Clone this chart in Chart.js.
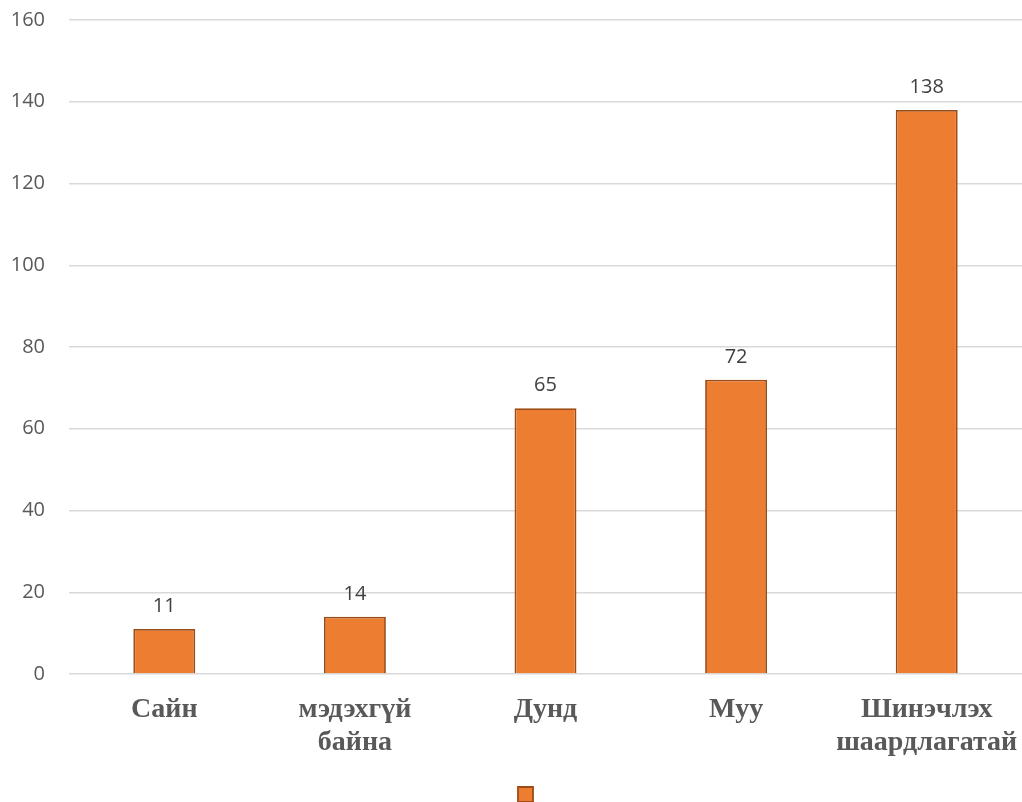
<!DOCTYPE html>
<html>
<head>
<meta charset="utf-8">
<script src="https://cdn.jsdelivr.net/npm/chart.js@4/dist/chart.umd.min.js"></script>
<style>
  html, body { margin: 0; padding: 0; background: #ffffff; }
  #wrap { width: 1022px; height: 802px; position: relative; }
</style>
</head>
<body>
<div id="wrap"><canvas id="c"></canvas></div>
<script>
const categories = [["Сайн"], ["мэдэхгүй", "байна"], ["Дунд"], ["Муу"], ["Шинэчлэх", "шаардлагатай"]];
const values = [11, 14, 65, 72, 138];
const yMin = 0;
const yMax = 160;
const yStep = 20;

const valueLabels = {
  id: 'valueLabels',
  afterDatasetsDraw(chart) {
    const ctx = chart.ctx;
    const meta = chart.getDatasetMeta(0);
    ctx.save();
    ctx.font = '20px "Open Sans"';
    ctx.fillStyle = '#404040';
    ctx.textAlign = 'center';
    ctx.textBaseline = 'alphabetic';
    meta.data.forEach((bar, i) => {
      ctx.fillText(String(chart.data.datasets[0].data[i]), bar.x, bar.y - 17);
    });
    ctx.restore();
  }
};

const legendShift = {
  id: 'legendShift',
  afterLayout(chart) {
    if (chart.legend) { chart.legend.left += 35; }
  }
};

new Chart(document.getElementById('c'), {
  type: 'bar',
  data: {
    labels: categories,
    datasets: [{
      label: '',
      data: values,
      backgroundColor: '#ED7D31',
      borderColor: '#9C4C16',
      borderWidth: 1.8,
      barPercentage: 0.325,
      categoryPercentage: 1.0
    }]
  },
  options: {
    responsive: true,
    maintainAspectRatio: false,
    animation: false,
    layout: { padding: { top: 20, left: 0, right: 0, bottom: 0 } },
    plugins: {
      legend: {
        display: true,
        position: 'bottom',
        maxHeight: 17,
        labels: { boxWidth: 15, boxHeight: 15, padding: 2, font: { size: 12 } }
      },
      tooltip: { enabled: false }
    },
    scales: {
      x: {
        grid: { display: false, drawTicks: true, tickLength: 19 },
        border: { display: false },
        ticks: {
          color: '#595959',
          font: { family: '"Liberation Serif"', size: 28, weight: 'bold', lineHeight: 1.18 },
          padding: 0,
          maxRotation: 0,
          autoSkip: false
        },
        afterFit(scale) { scale.height = 111; scale.paddingLeft = 0; scale.paddingRight = 0; }
      },
      y: {
        min: yMin,
        max: yMax,
        grid: { color: '#d9d9d9', lineWidth: 1.5, drawTicks: false },
        border: { display: false },
        ticks: {
          stepSize: yStep,
          color: '#595959',
          font: { family: '"Open Sans"', size: 20 },
          padding: 24
        },
        afterFit(scale) { scale.width = 69; scale.paddingTop = 0; scale.paddingBottom = 0; }
      }
    }
  },
  plugins: [valueLabels, legendShift]
});
</script>
</body>
</html>
